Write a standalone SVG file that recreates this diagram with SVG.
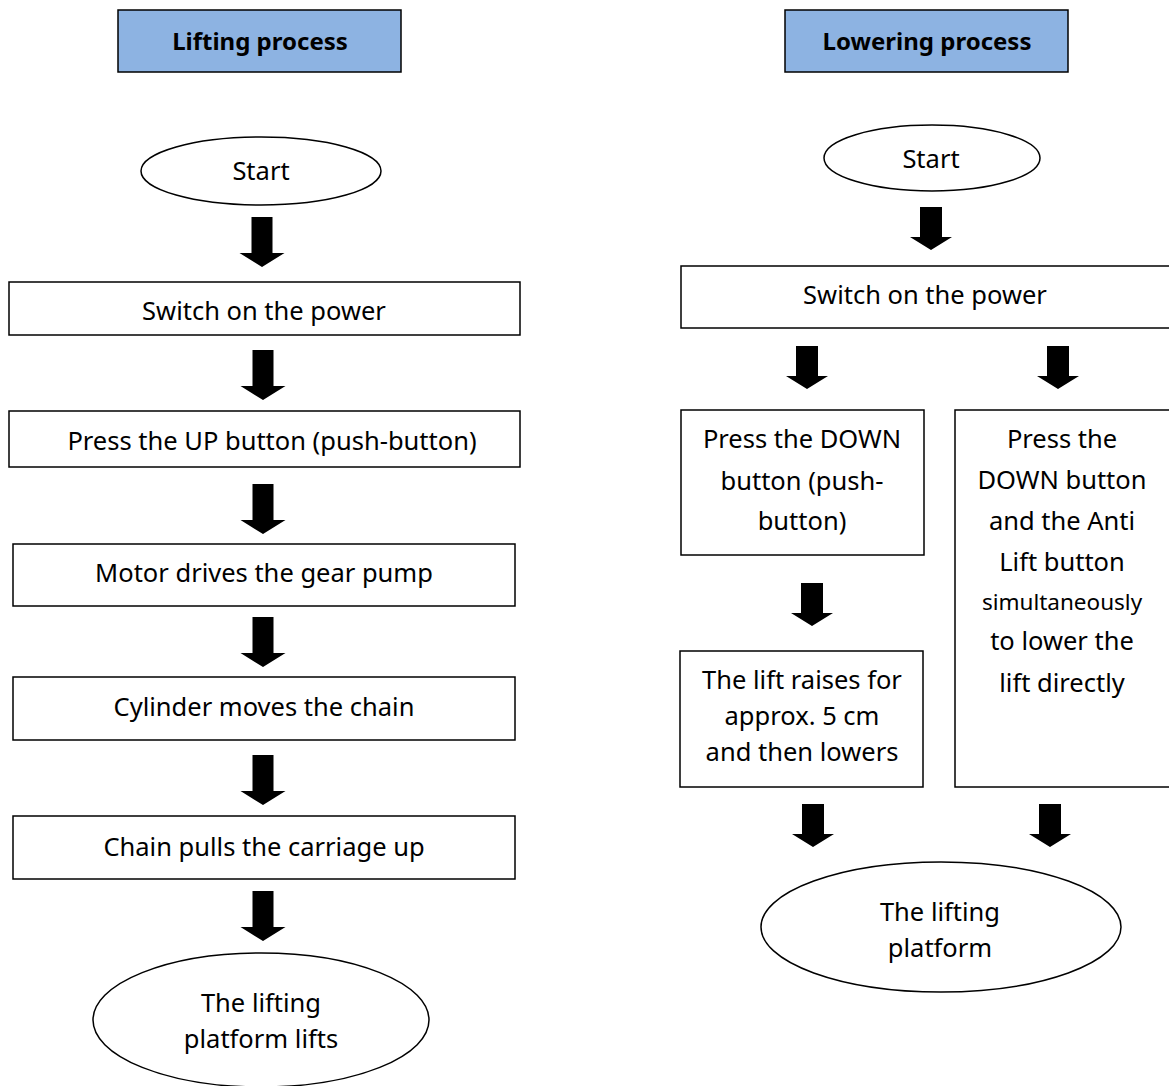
<svg xmlns="http://www.w3.org/2000/svg" xmlns:xlink="http://www.w3.org/1999/xlink" width="1169" height="1086" viewBox="0 0 1169 1086">
<style>
.bx{fill:#fff;stroke:#000;stroke-width:1.5}
.hd{fill:#8db3e2;stroke:#000;stroke-width:1.5}
.t{font-family:"Noto Sans","Open Sans",sans-serif;font-size:25.5px;fill:#000;text-anchor:middle;dominant-baseline:central}
.b{font-weight:bold;font-size:24px}
.s{font-size:22.5px}
</style>
<defs>
<path id="arrL" d="M-10.5,0 H10.5 V36 H22.5 L0,50 L-22.5,36 H-10.5 Z" fill="#000"/>
<path id="arrR" d="M-11,0 H11 V30 H21 L0,43 L-21,30 H-11 Z" fill="#000"/>
</defs>
<rect width="1169" height="1086" fill="#fff"/>
<g id="connectors">
<use xlink:href="#arrL" x="262" y="217"/>
<use xlink:href="#arrL" x="263" y="350"/>
<use xlink:href="#arrL" x="263" y="484"/>
<use xlink:href="#arrL" x="263" y="617"/>
<use xlink:href="#arrL" x="263" y="755"/>
<use xlink:href="#arrL" x="263" y="891"/>
<use xlink:href="#arrR" x="931" y="207"/>
<use xlink:href="#arrR" x="807" y="346"/>
<use xlink:href="#arrR" x="1058" y="346"/>
<use xlink:href="#arrR" x="812" y="583"/>
<use xlink:href="#arrR" x="813" y="804"/>
<use xlink:href="#arrR" x="1050" y="804"/>
</g>
<g id="hdr-lift"><rect class="hd" x="118" y="10" width="283" height="62"/><text class="t b" x="260" y="40">Lifting process</text></g>
<g id="hdr-lower"><rect class="hd" x="785" y="10" width="283" height="62"/><text class="t b" x="927" y="40">Lowering process</text></g>
<g id="l-start"><ellipse class="bx" cx="261" cy="171" rx="120" ry="34"/><text class="t" x="261" y="170">Start</text></g>
<g id="l-power"><rect class="bx" x="9" y="282" width="511" height="53"/><text class="t" x="264" y="310">Switch on the power</text></g>
<g id="l-up"><rect class="bx" x="9" y="411" width="511" height="56"/><text class="t" x="272" y="440">Press the UP button (push-button)</text></g>
<g id="l-motor"><rect class="bx" x="13" y="544" width="502" height="62"/><text class="t" x="264" y="572">Motor drives the gear pump</text></g>
<g id="l-cyl"><rect class="bx" x="13" y="677" width="502" height="63"/><text class="t" x="264" y="706">Cylinder moves the chain</text></g>
<g id="l-chain"><rect class="bx" x="13" y="816" width="502" height="63"/><text class="t" x="264" y="846">Chain pulls the carriage up</text></g>
<g id="l-end"><ellipse class="bx" cx="261" cy="1020" rx="168" ry="67"/><text class="t" x="261" y="1002">The lifting</text><text class="t" x="261" y="1038">platform lifts</text></g>
<g id="r-start"><ellipse class="bx" cx="932" cy="158" rx="108" ry="33"/><text class="t" x="931" y="158">Start</text></g>
<g id="r-power"><rect class="bx" x="681" y="266" width="500" height="62"/><text class="t" x="925" y="294">Switch on the power</text></g>
<g id="r-down"><rect class="bx" x="681" y="410" width="243" height="145"/><text class="t" x="802" y="438">Press the DOWN</text><text class="t" x="802" y="480">button (push-</text><text class="t" x="802" y="520">button)</text></g>
<g id="r-anti"><rect class="bx" x="955" y="410" width="226" height="377"/><text class="t" x="1062" y="438">Press the</text><text class="t" x="1062" y="479">DOWN button</text><text class="t" x="1062" y="520">and the Anti</text><text class="t" x="1062" y="561">Lift button</text><text class="t s" x="1062" y="601">simultaneously</text><text class="t" x="1062" y="640">to lower the</text><text class="t" x="1062" y="682">lift directly</text></g>
<g id="r-raise"><rect class="bx" x="680" y="651" width="243" height="136"/><text class="t" x="802" y="679">The lift raises for</text><text class="t" x="802" y="715">approx. 5 cm</text><text class="t" x="802" y="751">and then lowers</text></g>
<g id="r-end"><ellipse class="bx" cx="941" cy="927" rx="180" ry="65"/><text class="t" x="940" y="911">The lifting</text><text class="t" x="940" y="947">platform</text></g>
</svg>
